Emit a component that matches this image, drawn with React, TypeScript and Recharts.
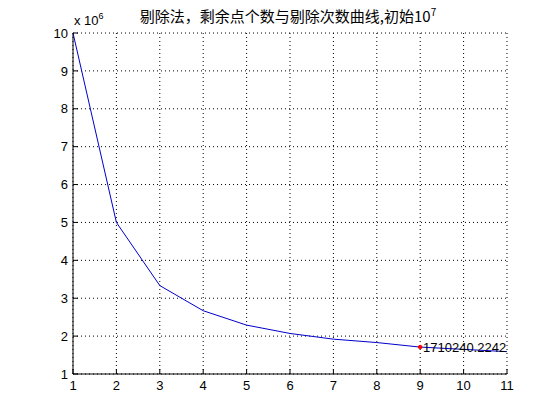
import {
  LineChart, Line, XAxis, YAxis, CartesianGrid, ReferenceDot, Label
} from "recharts";

const iterations = [1, 2, 3, 4, 5, 6, 7, 8, 9, 10, 11];
const remaining = [
  10000000, 5000000, 3333333, 2670000, 2290000, 2070000,
  1920000, 1830000, 1710240.2242, 1650000, 1590000
];
const xTicks = [1, 2, 3, 4, 5, 6, 7, 8, 9, 10, 11];
const yTicks = [1, 2, 3, 4, 5, 6, 7, 8, 9, 10].map((v) => v * 1000000);
const markedIndex = 8;

const data = iterations.map((n, i) => ({ n, count: remaining[i] }));

const FONT = "'Liberation Sans', Arial, sans-serif";

const BottomTick = (props: any) => {
  const { x, y, payload } = props;
  return (
    <g>
      <line x1={x} y1={y} x2={x} y2={y - 5} stroke="#000" />
      <text x={x} y={y + 16} textAnchor="middle" fontSize={13} fontFamily={FONT} fill="#000">
        {payload.value}
      </text>
    </g>
  );
};

const TopTick = (props: any) => {
  const { x, y } = props;
  return <line x1={x} y1={y} x2={x} y2={y + 5} stroke="#000" />;
};

const LeftTick = (props: any) => {
  const { x, y, payload } = props;
  return (
    <g>
      <line x1={x} y1={y} x2={x + 5} y2={y} stroke="#000" />
      <text x={x - 5} y={y} dy="0.36em" textAnchor="end" fontSize={13} fontFamily={FONT} fill="#000">
        {payload.value / 1000000}
      </text>
    </g>
  );
};

const RightTick = (props: any) => {
  const { x, y } = props;
  return <line x1={x} y1={y} x2={x - 5} y2={y} stroke="#000" />;
};

export default function App() {
  return (
    <div style={{ position: "absolute", left: 0, top: 0, background: "#fff" }}>
      <LineChart
        width={560}
        height={420}
        data={data}
        margin={{ top: 33, right: 53, bottom: 0, left: 0 }}
      >
        <CartesianGrid stroke="#000" strokeDasharray="1 3" />
        <XAxis
          dataKey="n"
          type="number"
          domain={[1, 11]}
          ticks={xTicks}
          height={46}
          tickLine={false}
          tickSize={0}
          tickMargin={0}
          axisLine={{ stroke: "#000" }}
          tick={<BottomTick />}
        />
        <XAxis
          xAxisId="top"
          orientation="top"
          dataKey="n"
          type="number"
          domain={[1, 11]}
          ticks={xTicks}
          height={0}
          tickLine={false}
          tickSize={0}
          tickMargin={0}
          axisLine={{ stroke: "#000" }}
          tick={<TopTick />}
        />
        <YAxis
          type="number"
          domain={[1000000, 10000000]}
          ticks={yTicks}
          width={73}
          tickLine={false}
          tickSize={0}
          tickMargin={0}
          axisLine={{ stroke: "#000" }}
          tick={<LeftTick />}
        />
        <YAxis
          yAxisId="right"
          orientation="right"
          type="number"
          domain={[1000000, 10000000]}
          ticks={yTicks}
          width={0}
          tickLine={false}
          tickSize={0}
          tickMargin={0}
          axisLine={{ stroke: "#000" }}
          tick={<RightTick />}
        />
        <Line
          type="linear"
          dataKey="count"
          stroke="#0000cc"
          strokeWidth={1}
          dot={false}
          activeDot={false}
          isAnimationActive={false}
        />
        <ReferenceDot
          x={iterations[markedIndex]}
          y={remaining[markedIndex]}
          r={1.8}
          fill="#ff0000"
          stroke="#ff0000"
        >
          <Label
            value={String(remaining[markedIndex])}
            position="right"
            offset={1}
            fontSize={13}
            fontFamily={FONT}
            fill="#000"
          />
        </ReferenceDot>
        <text x={288} y={22} textAnchor="middle" fontSize={15} fontFamily="'Noto Sans CJK SC', sans-serif" fill="#000">
          剔除法，剩余点个数与剔除次数曲线,初始10
          <tspan dy={-6} fontSize={10}>7</tspan>
        </text>
        <text x={74} y={25} fontSize={13} fontFamily={FONT} fill="#000">
          x 10
          <tspan dy={-6} fontSize={9}>6</tspan>
        </text>
      </LineChart>
    </div>
  );
}
